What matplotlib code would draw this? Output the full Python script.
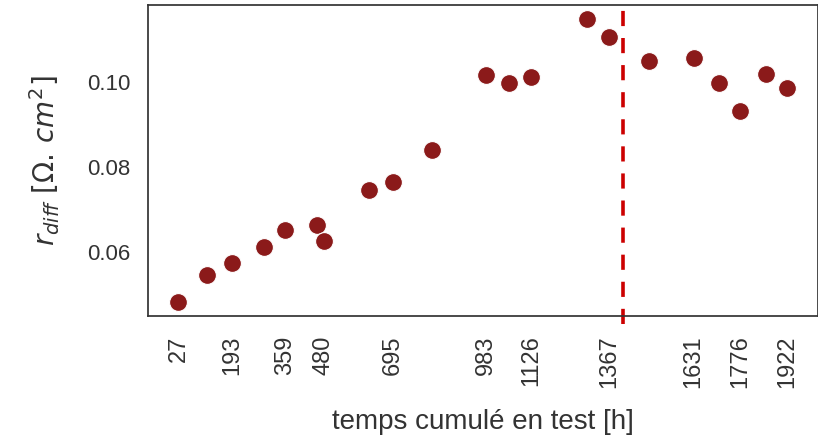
import matplotlib
matplotlib.use("Agg")
import matplotlib.pyplot as plt
import seaborn as sns

hours = [27, 117, 193, 292, 359, 457, 480, 619, 695, 816, 983, 1056, 1126,
         1299, 1367, 1492, 1631, 1710, 1776, 1857, 1922]
r_diff = [0.0481, 0.0545, 0.0574, 0.0610, 0.0650, 0.0664, 0.0624, 0.0745,
          0.0764, 0.0840, 0.1017, 0.0998, 0.1014, 0.1150, 0.1107, 0.1050,
          0.1057, 0.0998, 0.0933, 0.1021, 0.0986]
tick_hours = [27, 193, 359, 480, 695, 983, 1126, 1367, 1631, 1776, 1922]
y_ticks = [0.06, 0.08, 0.10]
split_hour = 1411

sns.set_style("white")
plt.rcParams['font.family'] = ['Liberation Sans', 'DejaVu Sans']

fig = plt.figure(figsize=(8.18, 4.42), dpi=100)
ax = fig.add_axes([0.181, 0.285, 0.8185, 0.704])
ax.scatter(hours, r_diff, s=165, color='#8b1a1a', edgecolor='white', linewidth=0.8, zorder=3)
ax.axvline(split_hour, ymin=-0.025, ymax=1, color='#cc0000', linestyle='--', lw=2.6,
           dashes=(4.2, 3.3), clip_on=False, zorder=2)
ax.set_xticks(tick_hours)
ax.set_xticklabels([str(t) for t in tick_hours], rotation=90, fontsize=17, color='.2')
ax.set_yticks(y_ticks)
ax.set_yticklabels([f"{v:.2f}" for v in y_ticks], fontsize=16, color='.2')
ax.set_xlabel("temps cumulé en test [h]", fontsize=20, color='.2', labelpad=15)
ax.set_ylabel(r"$r_{diff}\ [\Omega.\,cm^2]$", fontsize=20, color='.2', labelpad=18)
ax.tick_params(axis='x', length=0, pad=14)
ax.tick_params(axis='y', length=0, pad=13)
for sp in ax.spines.values():
    sp.set_color('.2')
    sp.set_linewidth(1.25)

fig.savefig("out.png", dpi=100)
